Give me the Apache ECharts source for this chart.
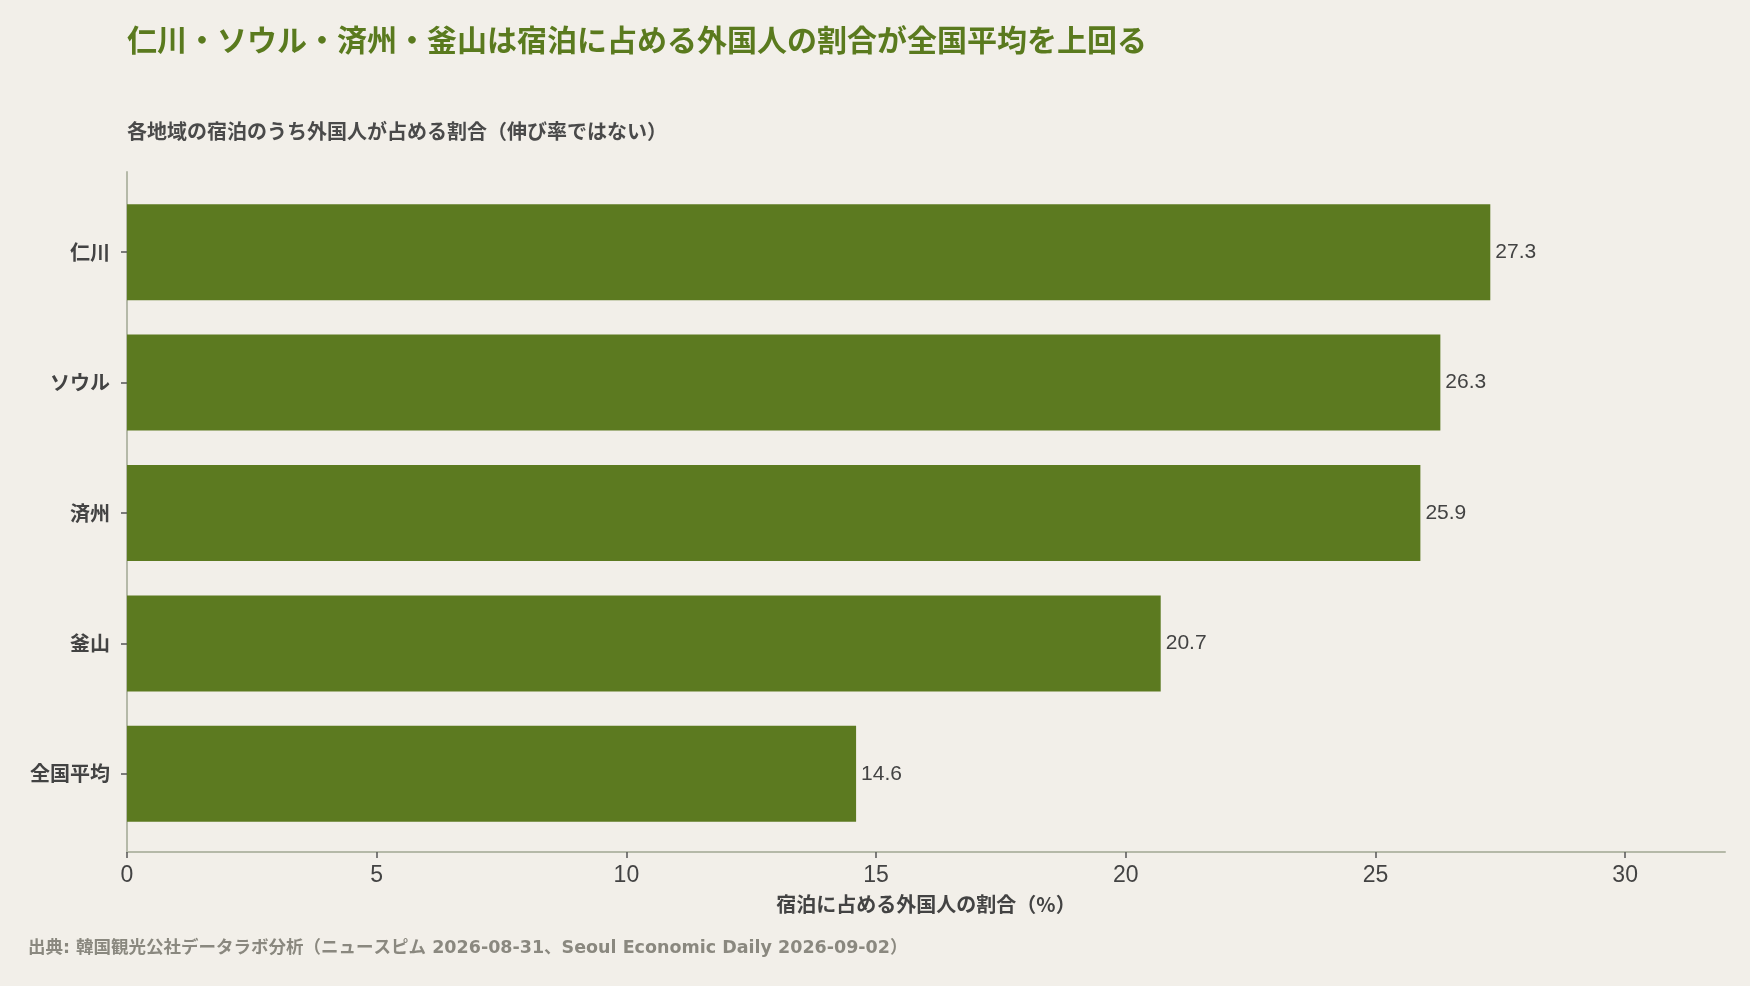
<!DOCTYPE html>
<html>
<head>
<meta charset="utf-8">
<script src="https://cdn.jsdelivr.net/npm/echarts@6/dist/echarts.min.js"></script>
<style>
html,body{margin:0;padding:0;background:#f2efe9;}
#chart{width:1750px;height:986px;}
</style>
</head>
<body>
<div id="chart"></div>
<script>
const categories = ['仁川', 'ソウル', '済州', '釜山', '全国平均'];
const shareValues = [27.3, 26.3, 25.9, 20.7, 14.6];
const tickValues = [0, 5, 10, 15, 20, 25, 30];
const titleText = '仁川・ソウル・済州・釜山は宿泊に占める外国人の割合が全国平均を上回る';
const subtitleText = '各地域の宿泊のうち外国人が占める割合（伸び率ではない）';
const axisNameText = '宿泊に占める外国人の割合（%）';
const sourceText = '出典: 韓国観光公社データラボ分析（ニュースピム 2026-08-31、Seoul Economic Daily 2026-09-02）';

const CJK = "'Noto Sans CJK JP', sans-serif";
const MIX = "'Liberation Sans', 'Noto Sans CJK JP', sans-serif";
const MIX_WIDE = "'DejaVu Sans', 'Noto Sans CJK JP', sans-serif";
const green = '#5c7a20';
const textDark = '#434343';
const axisGrey = '#b5b9a8';

const chart = echarts.init(document.getElementById('chart'), null, {renderer: 'canvas'});
chart.setOption({
  backgroundColor: '#f2efe9',
  animation: false,
  title: [
    {text: titleText, left: 122, top: 20,
     textStyle: {fontFamily: CJK, fontSize: 30, fontWeight: 'bold', color: '#5a7a1e'}},
    {text: subtitleText, left: 122, top: 116,
     textStyle: {fontFamily: CJK, fontSize: 20, fontWeight: 'bold', color: '#4a4a4a'}},
    {text: sourceText, left: 23, top: 935,
     textStyle: {fontFamily: MIX_WIDE, fontSize: 17.5, fontWeight: 'bold', color: '#8a887f'}}
  ],
  grid: [
    {left: 127, right: 25, top: 187, bottom: 147, containLabel: false},
    {left: 127, right: 25, top: 172, bottom: 134, containLabel: false}
  ],
  xAxis: [
    {type: 'value', gridIndex: 0, min: 0, max: 32, show: false},
    {type: 'value', gridIndex: 1, min: 0, max: 32,
     name: axisNameText, nameLocation: 'middle', nameGap: 42,
     nameTextStyle: {fontFamily: CJK, fontSize: 20, fontWeight: 'bold', color: textDark},
     axisLine: {show: true, lineStyle: {color: axisGrey, width: 2}},
     axisTick: {show: true, length: 6, customValues: tickValues, lineStyle: {color: '#555', width: 1.5}},
     axisLabel: {show: true, customValues: tickValues, margin: 12, fontFamily: MIX, fontSize: 23, color: textDark},
     splitLine: {show: false}}
  ],
  yAxis: [
    {type: 'category', gridIndex: 0, data: categories, inverse: true,
     axisLine: {show: false},
     axisTick: {show: true, length: 6, alignWithLabel: true, lineStyle: {color: '#555', width: 1.5}},
     axisLabel: {margin: 17, fontFamily: CJK, fontSize: 20, fontWeight: 'bold', color: textDark},
     splitLine: {show: false}},
    {type: 'value', gridIndex: 1, min: 0, max: 1,
     axisLine: {show: true, lineStyle: {color: axisGrey, width: 2}},
     axisTick: {show: false}, axisLabel: {show: false}, splitLine: {show: false}}
  ],
  series: [{
    type: 'bar',
    xAxisIndex: 0,
    yAxisIndex: 0,
    data: shareValues,
    barWidth: 96,
    itemStyle: {color: green},
    label: {show: true, position: 'right', distance: 5,
            fontFamily: MIX, fontSize: 21, color: textDark,
            formatter: p => p.value.toFixed(1)}
  }]
});
</script>
</body>
</html>
